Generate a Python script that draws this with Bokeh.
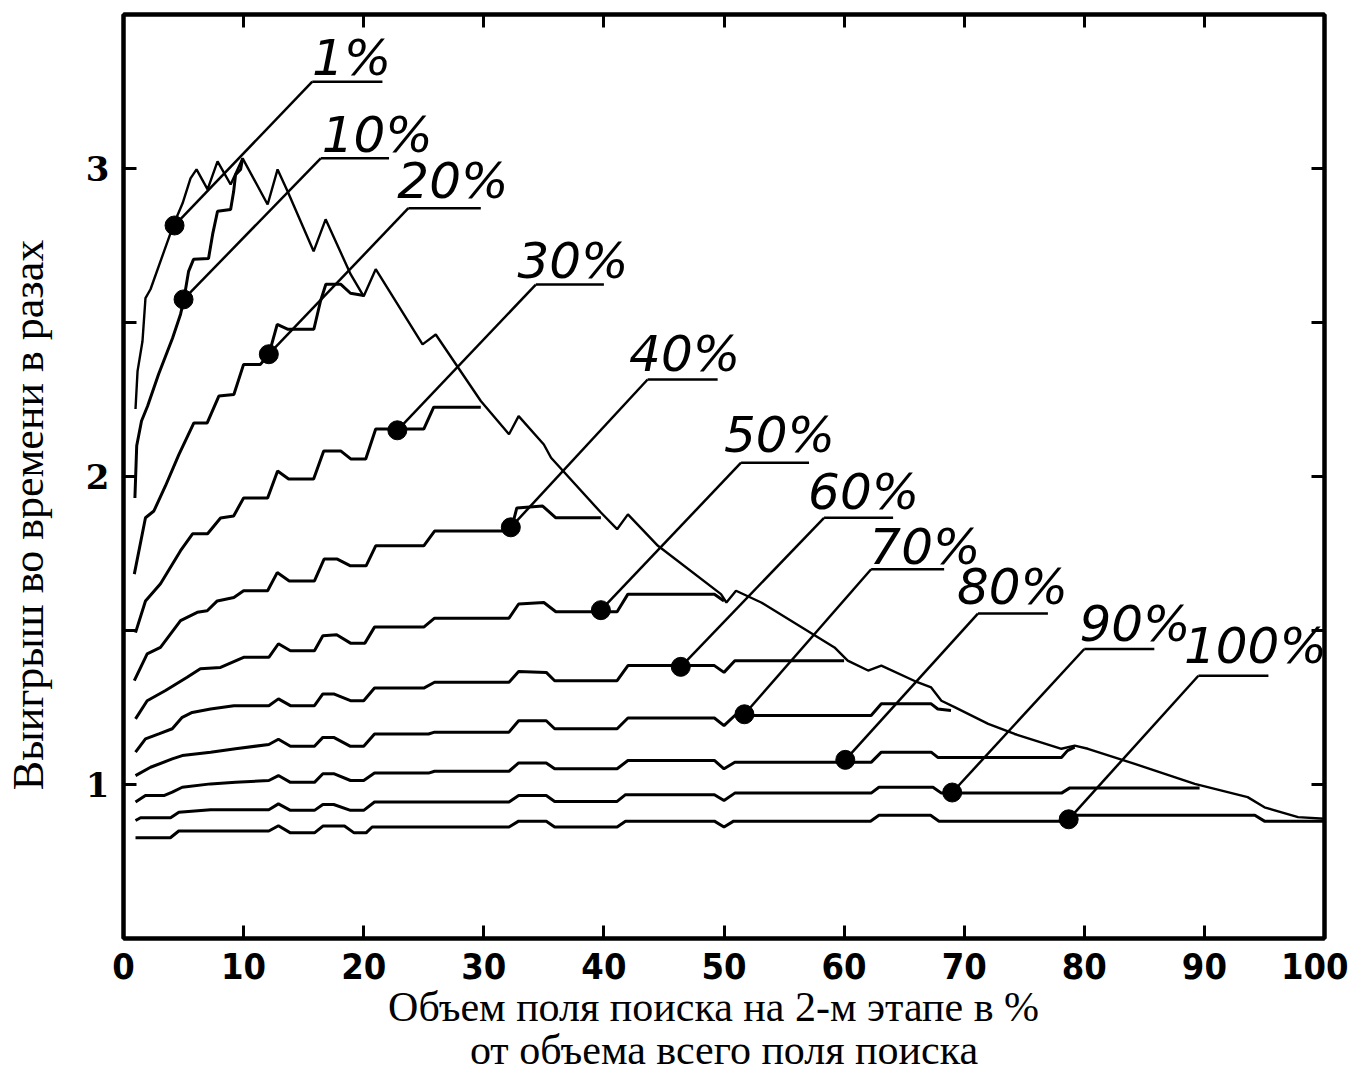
import math
from bokeh.plotting import figure
from bokeh.models import LinearAxis, FixedTicker, Range1d, ColumnDataSource
from bokeh.embed import file_html
from bokeh.resources import INLINE
from bokeh.core.properties import value

# ---------------- data ----------------
x_p1 = [1.0, 1.17, 1.58, 1.83, 2.25, 4.17, 4.92, 5.58, 6.08, 7.0, 7.83, 8.92, 9.92, 12.0, 12.83,
        13.67, 15.83, 16.83, 18.92, 20.0, 21.0, 24.9, 26.0, 29.75, 32.1, 32.9, 35.0, 35.6, 39.75, 41.1,
        42.0, 44.5, 49.75, 50.2, 51.0, 53.1, 59.2, 60.3, 62.0, 63.1, 66.1, 67.25, 68.1, 69.2, 72.0,
        74.2, 78.1, 79.2, 80.3, 84.2, 89.2, 93.6, 95.0, 97.8, 100.0]
y_p1 = [2.219, 2.342, 2.439, 2.579, 2.608, 2.818, 2.887, 2.968, 2.997, 2.932, 3.023, 2.948, 3.033, 2.883, 2.997,
        2.925, 2.731, 2.835, 2.656, 2.585, 2.673, 2.429, 2.461, 2.245, 2.137, 2.196, 2.104, 2.061, 1.883, 1.829,
        1.877, 1.775, 1.618, 1.591, 1.629, 1.591, 1.445, 1.402, 1.370, 1.386, 1.332, 1.315, 1.272, 1.251, 1.197,
        1.164, 1.116, 1.126, 1.116, 1.067, 1.002, 0.959, 0.926, 0.894, 0.889]

x_p10 = [0.95, 1.1, 1.5, 2.0, 2.92, 4.08, 4.75, 5.0, 5.42, 5.83, 7.08, 7.42, 7.83, 8.92, 9.17, 9.33, 9.75, 9.92]
y_p10 = [1.93, 2.10, 2.18, 2.228, 2.332, 2.449, 2.527, 2.569, 2.666, 2.705, 2.708, 2.786, 2.861, 2.867, 2.925,
         2.98, 2.997, 3.033]

x_p20 = [0.9, 1.83, 2.53, 3.5, 4.6, 5.86, 6.97, 7.94, 9.19, 10.0, 11.4, 12.1, 12.8, 13.7, 15.85, 16.4, 16.85,
         18.1, 18.9, 20.0]
y_p20 = [1.683, 1.866, 1.888, 1.97, 2.07, 2.174, 2.174, 2.261, 2.266, 2.364, 2.364, 2.396, 2.494, 2.478, 2.478,
         2.569, 2.624, 2.624, 2.595, 2.588]

x_p30 = [1.0, 1.83, 3.08, 4.75, 5.75, 7.0, 8.08, 9.17, 10.0, 12.0, 12.83, 13.75, 15.83, 16.67, 18.08, 18.92,
         20.17, 21.0, 25.0, 25.83, 29.75]
y_p30 = [1.493, 1.596, 1.652, 1.759, 1.814, 1.814, 1.865, 1.872, 1.930, 1.930, 2.018, 1.992, 1.992, 2.083, 2.083,
         2.057, 2.057, 2.154, 2.154, 2.225, 2.225]

x_p40 = [0.9, 1.97, 3.08, 4.75, 6.14, 6.97, 7.81, 9.19, 10.0, 12.0, 12.8, 13.8, 15.9, 16.7, 17.8, 18.9, 20.2,
         21.0, 25.0, 25.9, 32.25, 32.75, 34.9, 36.0, 39.75]
y_p40 = [1.337, 1.424, 1.445, 1.532, 1.559, 1.564, 1.596, 1.607, 1.629, 1.629, 1.688, 1.661, 1.661, 1.732, 1.732,
         1.710, 1.710, 1.775, 1.775, 1.823, 1.823, 1.898, 1.904, 1.866, 1.866]

x_p50 = [1.0, 1.97, 3.5, 5.3, 6.4, 8.08, 10.0, 12.1, 12.9, 13.9, 15.9, 16.6, 17.75, 18.9, 20.1, 20.9, 25.0,
         25.9, 32.1, 32.9, 35.0, 36.0, 41.1, 42.0, 49.2, 50.0]
y_p50 = [1.213, 1.272, 1.305, 1.348, 1.376, 1.380, 1.413, 1.413, 1.457, 1.434, 1.434, 1.483, 1.486, 1.459, 1.459,
         1.511, 1.511, 1.540, 1.540, 1.586, 1.591, 1.561, 1.561, 1.618, 1.618, 1.596]

x_p60 = [1.0, 1.83, 3.0, 4.06, 4.89, 5.72, 7.25, 9.19, 12.1, 12.9, 13.9, 15.9, 16.6, 17.5, 18.9, 20.0, 20.9,
         25.0, 25.9, 32.1, 32.9, 35.2, 35.9, 41.1, 42.0, 49.2, 50.0, 50.9, 60.0]
y_p60 = [1.105, 1.148, 1.165, 1.181, 1.218, 1.234, 1.245, 1.256, 1.256, 1.278, 1.256, 1.256, 1.294, 1.294, 1.272,
         1.272, 1.313, 1.313, 1.332, 1.332, 1.367, 1.364, 1.337, 1.337, 1.386, 1.386, 1.364, 1.402, 1.402]

x_p70 = [1.0, 2.25, 4.06, 4.89, 7.25, 9.33, 12.1, 12.9, 13.9, 15.9, 16.6, 17.5, 18.9, 20.0, 20.9, 25.4, 25.9,
         32.1, 32.9, 35.2, 35.9, 41.1, 42.0, 49.2, 50.0, 50.9, 62.25, 63.1, 67.25, 67.8, 68.9]
y_p70 = [1.029, 1.056, 1.083, 1.094, 1.105, 1.116, 1.130, 1.147, 1.124, 1.124, 1.153, 1.153, 1.124, 1.124, 1.164,
         1.164, 1.170, 1.170, 1.207, 1.207, 1.181, 1.181, 1.216, 1.216, 1.191, 1.224, 1.224, 1.262, 1.262, 1.245,
         1.240]

x_p80 = [1.0, 1.83, 3.36, 4.06, 4.89, 7.25, 9.33, 12.1, 12.9, 13.9, 15.9, 16.6, 17.5, 18.9, 20.0, 20.9, 25.4,
         25.9, 32.1, 32.9, 35.2, 35.9, 41.1, 42.0, 49.2, 50.0, 50.9, 62.25, 63.1, 67.25, 67.8, 78.1, 78.6, 79.2]
y_p80 = [0.943, 0.964, 0.964, 0.975, 0.991, 1.002, 1.007, 1.013, 1.029, 1.007, 1.007, 1.035, 1.035, 1.013, 1.013,
         1.037, 1.037, 1.043, 1.043, 1.070, 1.070, 1.051, 1.051, 1.078, 1.078, 1.051, 1.072, 1.072, 1.105, 1.105,
         1.088, 1.088, 1.110, 1.121]

x_p90 = [1.0, 1.42, 3.92, 4.61, 7.25, 12.1, 12.9, 13.9, 15.9, 16.6, 17.5, 18.9, 20.0, 20.9, 32.1, 32.9, 35.2,
         35.9, 41.1, 41.8, 49.2, 50.0, 50.9, 62.25, 62.9, 67.4, 68.1, 78.1, 78.8, 89.6]
y_p90 = [0.883, 0.892, 0.892, 0.910, 0.918, 0.918, 0.937, 0.916, 0.916, 0.935, 0.935, 0.916, 0.916, 0.943, 0.943,
         0.964, 0.964, 0.945, 0.945, 0.967, 0.967, 0.948, 0.972, 0.972, 0.991, 0.991, 0.972, 0.972, 0.989, 0.989]

x_p100 = [1.0, 3.9, 4.6, 12.1, 12.9, 13.9, 15.9, 16.6, 18.4, 19.2, 20.2, 20.7, 32.1, 32.9, 35.2, 35.9, 41.1,
          41.8, 49.2, 50.0, 50.8, 62.2, 62.9, 67.2, 67.9, 78.7, 79.2, 94.2, 95.0, 100.0]
y_p100 = [0.827, 0.827, 0.849, 0.849, 0.866, 0.843, 0.843, 0.865, 0.865, 0.843, 0.843, 0.862, 0.862, 0.881, 0.881,
          0.862, 0.862, 0.881, 0.881, 0.862, 0.881, 0.881, 0.900, 0.900, 0.881, 0.881, 0.900, 0.900, 0.881, 0.881]

# labelled points on each curve
lab_text = ["1%", "10%", "20%", "30%", "40%", "50%", "60%", "70%", "80%", "90%", "100%"]
mark_x = [4.25, 5.0, 12.1, 22.8, 32.25, 39.75, 46.4, 51.7, 60.1, 69.0, 78.7]
mark_y = [2.815, 2.575, 2.397, 2.150, 1.835, 1.566, 1.382, 1.228, 1.080, 0.974, 0.887]

# callout geometry (label text left / vertical middle, underline start / level / end)
lab_x = [15.7, 16.5, 22.8, 32.8, 42.1, 50.0, 57.0, 62.1, 69.4, 79.6, 88.3]
lab_y = [3.358, 3.109, 2.958, 2.700, 2.399, 2.135, 1.950, 1.772, 1.640, 1.521, 1.451]
line_x0 = [15.72, 16.42, 23.72, 34.33, 43.64, 51.42, 58.33, 62.25, 71.14, 80.0, 89.5]
line_y = [3.282, 3.033, 2.871, 2.623, 2.315, 2.045, 1.866, 1.699, 1.555, 1.440, 1.353]
line_x1 = [21.56, 22.11, 29.75, 40.0, 49.47, 57.08, 64.08, 68.33, 76.97, 85.83, 95.33]

x_ticks = [0, 10, 20, 30, 40, 50, 60, 70, 80, 90, 100]
y_ticks = [1, 2, 3]
y_minor = [1.5, 2.5]

NB = "\u00a0"
x_title = "Объем поля поиска на 2-м этапе в %" + NB * 2 + "\nот объема всего поля поиска"
y_title = "Выигрыш во времени в разах" + NB * 7

# ---------------- figure ----------------
p = figure(width=1348, height=1076, x_range=Range1d(0, 100), y_range=Range1d(0.5, 3.5),
           output_backend="svg", toolbar_location=None,
           min_border_left=123, min_border_right=24, min_border_top=14, min_border_bottom=138)
p.grid.visible = False
p.background_fill_color = "white"
p.border_fill_color = "white"
p.outline_line_color = "black"
p.outline_line_width = 4

for ax in p.xaxis:
    ax.ticker = FixedTicker(ticks=x_ticks, minor_ticks=[])
for ax in p.yaxis:
    ax.ticker = FixedTicker(ticks=y_ticks, minor_ticks=y_minor)

for ax in list(p.xaxis) + list(p.yaxis):
    ax.axis_line_width = 4
    ax.major_tick_in = 13
    ax.major_tick_out = 0
    ax.minor_tick_in = 13
    ax.minor_tick_out = 0
    ax.major_tick_line_width = 3
    ax.minor_tick_line_width = 3
    ax.major_label_standoff = 14
    ax.axis_label_text_font_style = "normal"
    ax.axis_label_text_color = "black"

p.xaxis.major_label_text_font = "DejaVu Sans Condensed"
p.xaxis.major_label_text_font_style = "bold"
p.xaxis.major_label_text_font_size = "36px"
p.xaxis.major_label_text_color = "black"
p.xaxis.axis_label = x_title
p.xaxis.axis_label_text_font = "Liberation Serif"
p.xaxis.axis_label_text_font_size = "42px"
p.xaxis.axis_label_text_line_height = 0.95
p.xaxis.axis_label_standoff = 2

p.yaxis.major_label_text_font = "DejaVu Serif"
p.yaxis.major_label_text_font_style = "bold"
p.yaxis.major_label_text_font_size = "34px"
p.yaxis.major_label_text_color = "black"
p.yaxis.axis_label = y_title
p.yaxis.axis_label_text_font = "Liberation Serif"
p.yaxis.axis_label_text_font_size = "44px"
p.yaxis.axis_label_standoff = 30

top = LinearAxis(ticker=FixedTicker(ticks=x_ticks[1:-1], minor_ticks=[]),
                 major_tick_in=13, major_tick_out=0, major_tick_line_width=3, axis_line_width=4,
                 major_label_text_font_size="1px", major_label_text_color=None, major_label_standoff=0)
p.add_layout(top, "above")
right = LinearAxis(ticker=FixedTicker(ticks=y_ticks, minor_ticks=y_minor),
                   major_tick_in=13, major_tick_out=0, minor_tick_in=13, minor_tick_out=0,
                   major_tick_line_width=3, minor_tick_line_width=3, axis_line_width=4,
                   major_label_text_font_size="1px", major_label_text_color=None, major_label_standoff=0)
p.add_layout(right, "right")

# curves
p.line(x_p1, y_p1, line_color="black", line_width=2.4)
for xs, ys in [(x_p10, y_p10), (x_p20, y_p20), (x_p30, y_p30), (x_p40, y_p40), (x_p50, y_p50),
               (x_p60, y_p60), (x_p70, y_p70), (x_p80, y_p80), (x_p90, y_p90), (x_p100, y_p100)]:
    p.line(xs, ys, line_color="black", line_width=3)

src = ColumnDataSource(dict(mx=mark_x, my=mark_y, lx=lab_x, ly=lab_y, x0=line_x0, y0=line_y,
                            x1=line_x1, t=lab_text))
p.segment(x0="mx", y0="my", x1="x0", y1="y0", source=src, line_color="black", line_width=2.5)
p.segment(x0="x0", y0="y0", x1="x1", y1="y0", source=src, line_color="black", line_width=2.5)
p.scatter(x="mx", y="my", source=src, size=19, color="black")
p.text(x="lx", y="ly", text="t", source=src, text_font=value("DejaVu Sans"), text_font_style="italic",
       text_font_size="50px", text_color="black", text_baseline="middle", text_align="left")

open("out.html", "w").write(file_html(p, INLINE))
